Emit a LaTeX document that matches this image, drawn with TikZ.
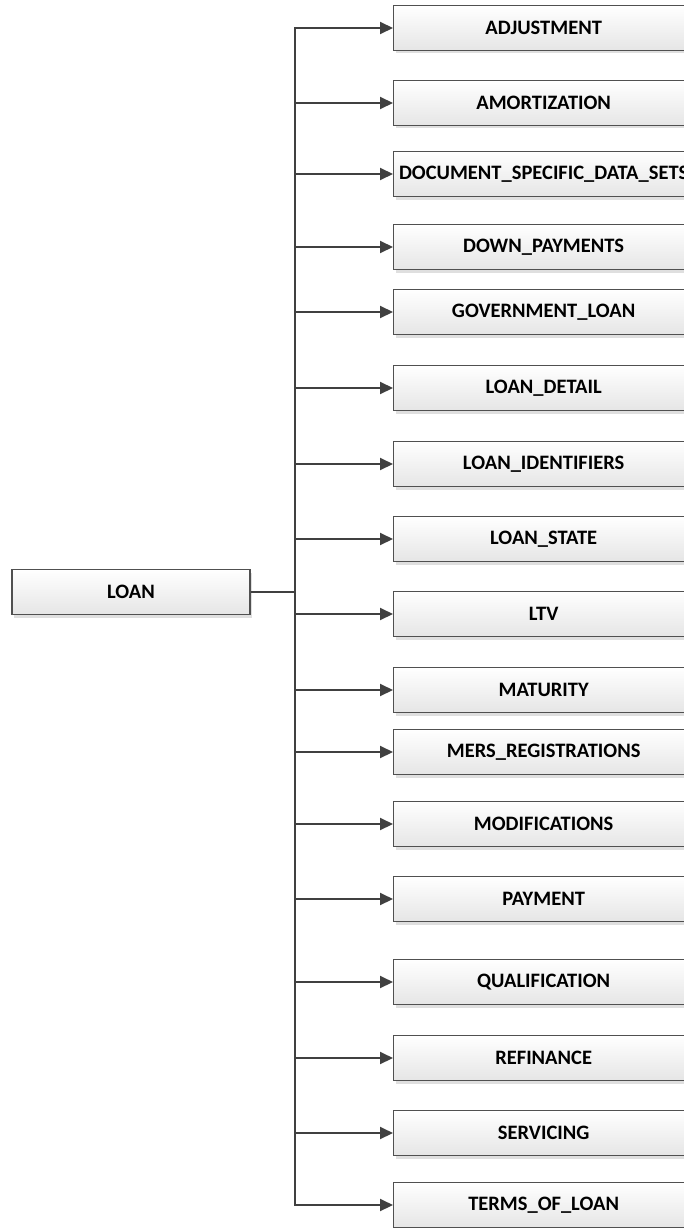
\documentclass[tikz,border=0pt]{standalone}
\usepackage{fontspec}
\setmainfont{Carlito}
\usetikzlibrary{arrows.meta,shadows}
\definecolor{linec}{HTML}{404040}
\definecolor{boxline}{HTML}{505050}
\tikzset{
  entbox/.style={draw=boxline, line width=1.3pt, rectangle, minimum width=300pt, minimum height=45pt,
    top color=white, bottom color=black!10, inner sep=0pt,
    font=\fontsize{20.5}{22}\selectfont\bfseries,
    drop shadow={shadow xshift=2pt, shadow yshift=-3pt, fill=black!25, opacity=0.5}},
  conn/.style={draw=linec, line width=2pt},
  arr/.style={conn, -{Triangle[length=13pt,width=12pt]}}
}
\begin{document}
\begin{tikzpicture}[x=1pt,y=-1pt]
\useasboundingbox (0,0) rectangle (684,1228);
\node[entbox, minimum width=238pt] (loan) at (131,592) {LOAN};
\node[entbox, anchor=west] (n1) at (393,28) {ADJUSTMENT};
\node[entbox, anchor=west] (n2) at (393,103) {AMORTIZATION};
\node[entbox, anchor=west] (n3) at (393,174) {DOCUMENT\_SPECIFIC\_DATA\_SETS};
\node[entbox, anchor=west] (n4) at (393,247) {DOWN\_PAYMENTS};
\node[entbox, anchor=west] (n5) at (393,312) {GOVERNMENT\_LOAN};
\node[entbox, anchor=west] (n6) at (393,388) {LOAN\_DETAIL};
\node[entbox, anchor=west] (n7) at (393,464) {LOAN\_IDENTIFIERS};
\node[entbox, anchor=west] (n8) at (393,539) {LOAN\_STATE};
\node[entbox, anchor=west] (n9) at (393,614) {LTV};
\node[entbox, anchor=west] (n10) at (393,690) {MATURITY};
\node[entbox, anchor=west] (n11) at (393,752) {MERS\_REGISTRATIONS};
\node[entbox, anchor=west] (n12) at (393,824) {MODIFICATIONS};
\node[entbox, anchor=west] (n13) at (393,899) {PAYMENT};
\node[entbox, anchor=west] (n14) at (393,982) {QUALIFICATION};
\node[entbox, anchor=west] (n15) at (393,1058) {REFINANCE};
\node[entbox, anchor=west] (n16) at (393,1133) {SERVICING};
\node[entbox, anchor=west] (n17) at (393,1205) {TERMS\_OF\_LOAN};
\coordinate (bus) at (295,592);
\draw[conn] (loan.east) -- (bus);
\draw[conn, line cap=rect] (bus |- n1.west) -- (bus |- n17.west);
\foreach \i in {1,...,17} {
  \draw[arr] (bus |- n\i.west) -- (n\i.west);
}
\end{tikzpicture}
\end{document}
